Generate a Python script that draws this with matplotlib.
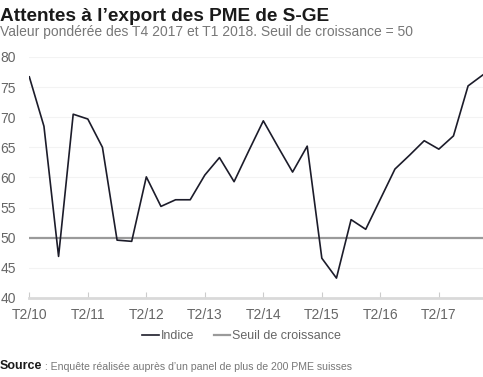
import numpy as np
import matplotlib.pyplot as plt

plt.rcParams['font.family'] = ['Liberation Sans', 'DejaVu Sans']

# indice trimestriel, T2/10 .. T1/18
indice = [76.7, 68.5, 46.9, 70.5, 69.7, 65.0, 49.6, 49.4,
          60.1, 55.2, 56.3, 56.3, 60.4, 63.3, 59.3, 64.4,
          69.4, 65.1, 60.9, 65.2, 46.6, 43.3, 53.0, 51.4,
          56.4, 61.4, 63.7, 66.1, 64.7, 66.9, 75.2, 77.0]
seuil = [50] * len(indice)
year_labels = ['T2/10', 'T2/11', 'T2/12', 'T2/13', 'T2/14', 'T2/15', 'T2/16', 'T2/17']
y_ticks = [40, 45, 50, 55, 60, 65, 70, 75, 80]

x = np.arange(len(indice))

fig = plt.figure(figsize=(4.83, 3.77), dpi=100)
ax = fig.add_axes([0.0607, 0.2096, 0.9387, 0.6393])

ax.plot(x, seuil, color='#9a9a9a', lw=1.6, label='Seuil de croissance', zorder=2)
ax.plot(x, indice, color='#1c1c2a', lw=1.2, label='Indice', zorder=3)

ax.set_xlim(0, len(indice) - 1)
ax.set_ylim(40, 80)
ax.set_yticks(y_ticks)
ax.set_xticks(x[::4])
ax.set_xticklabels(year_labels)

for s in ['top', 'right', 'left']:
    ax.spines[s].set_visible(False)
ax.spines['bottom'].set_color('#d9d9d9')
ax.spines['bottom'].set_linewidth(2)
ax.grid(axis='y', color='#f3f3f3', lw=0.8)
ax.set_axisbelow(True)

# labels y alignés à gauche sur le bord de la figure
ax.tick_params(axis='y', length=0, pad=21, labelsize=10, labelcolor='#666666')
for lab in ax.get_yticklabels():
    lab.set_horizontalalignment('left')
ax.tick_params(axis='x', direction='in', length=4, width=0.8, color='#cccccc',
               pad=7, labelsize=10, labelcolor='#666666')

handles, labels = ax.get_legend_handles_labels()
leg = fig.legend(handles[::-1], labels[::-1], loc='center', bbox_to_anchor=(0.5, 0.109),
                 ncol=2, frameon=False, handlelength=1.3, handletextpad=0.15,
                 columnspacing=1.6, fontsize=9)
for t in leg.get_texts():
    t.set_color('#666666')

fig.text(0.0, 0.955, 'Attentes à l\u2019export des PME de S-GE', fontsize=13.7,
         fontweight='bold', color='#1a1a1a', ha='left', va='center')
fig.text(0.0, 0.916, 'Valeur pondérée des T4 2017 et T1 2018. Seuil de croissance = 50',
         fontsize=10, color='#777777', ha='left', va='center')

src = fig.text(0.0, 0.012, 'Source', fontsize=9, fontweight='bold',
               color='#1a1a1a', ha='left', va='bottom')
ax.annotate(' : Enquête réalisée auprès d\u2019un panel de plus de 200 PME suisses',
            xy=(1, 0), xycoords=src, fontsize=7.6, color='#777777',
            ha='left', va='bottom', annotation_clip=False)

fig.savefig('out.png', dpi=100)
